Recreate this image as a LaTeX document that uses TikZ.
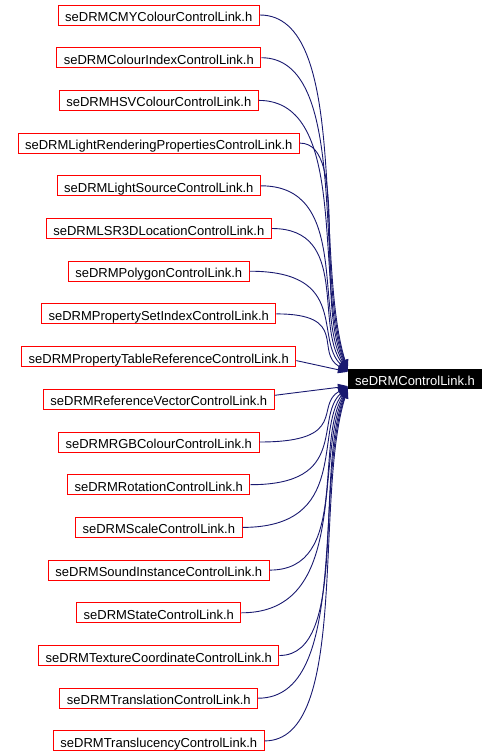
\documentclass[tikz,border=0pt]{standalone}
\usepackage{fontspec}
\setmainfont{Liberation Sans}
\usetikzlibrary{arrows.meta}
\definecolor{edgeblue}{RGB}{25,25,112}
\begin{document}
\begin{tikzpicture}[x=1pt,y=1pt,
  src/.style={draw=red, line width=1pt, minimum height=20pt, inner xsep=7pt, inner ysep=0pt,
    text height=13.5pt, text depth=0.5pt, font=\fontsize{13}{15}\selectfont, anchor=center},
  tgt/.style={fill=black, text=white, minimum height=20pt, inner xsep=7pt, inner ysep=0pt,
    text height=13.5pt, text depth=0.5pt, font=\fontsize{13}{15}\selectfont, anchor=center},
  edge/.style={draw=edgeblue, line width=0.9pt, -{Triangle[length=10pt,width=7pt]}}]
\useasboundingbox (0,0) rectangle (497,-756);
\node[tgt] (t) at (415,-379) {seDRMControlLink.h};
\foreach \i/\nm in {0/CMYColour, 1/ColourIndex, 2/HSVColour, 3/LightRenderingProperties,
  4/LightSource, 5/LSR3DLocation, 6/Polygon, 7/PropertySetIndex, 8/PropertyTableReference,
  9/ReferenceVector, 10/RGBColour, 11/Rotation, 12/Scale, 13/SoundInstance, 14/State,
  15/TextureCoordinate, 16/Translation, 17/Translucency} {
  \pgfmathsetmacro{\yy}{15+42.7*\i}
  \pgfmathsetmacro{\dd}{379-\yy}
  \pgfmathsetmacro{\dy}{sign(\dd)*(7+2.5*abs(\dd)/364)}
  \pgfmathsetmacro{\cy}{-379+\dy+0.3*\dd}
  \node[src] (n\i) at (158.8,-\yy) {seDRM\nm ControlLink.h};
  \ifnum\i=8
    \draw[edge] ([yshift=-4pt]n\i.east) -- ([yshift=\dy pt]t.west);
  \else\ifnum\i=9
    \draw[edge] ([yshift=4pt]n\i.east) -- ([yshift=\dy pt]t.west);
  \else
    \draw[edge] (n\i.east) .. controls (350,-\yy) and (314,\cy) .. ([yshift=\dy pt]t.west);
  \fi\fi
}
\end{tikzpicture}
\end{document}
